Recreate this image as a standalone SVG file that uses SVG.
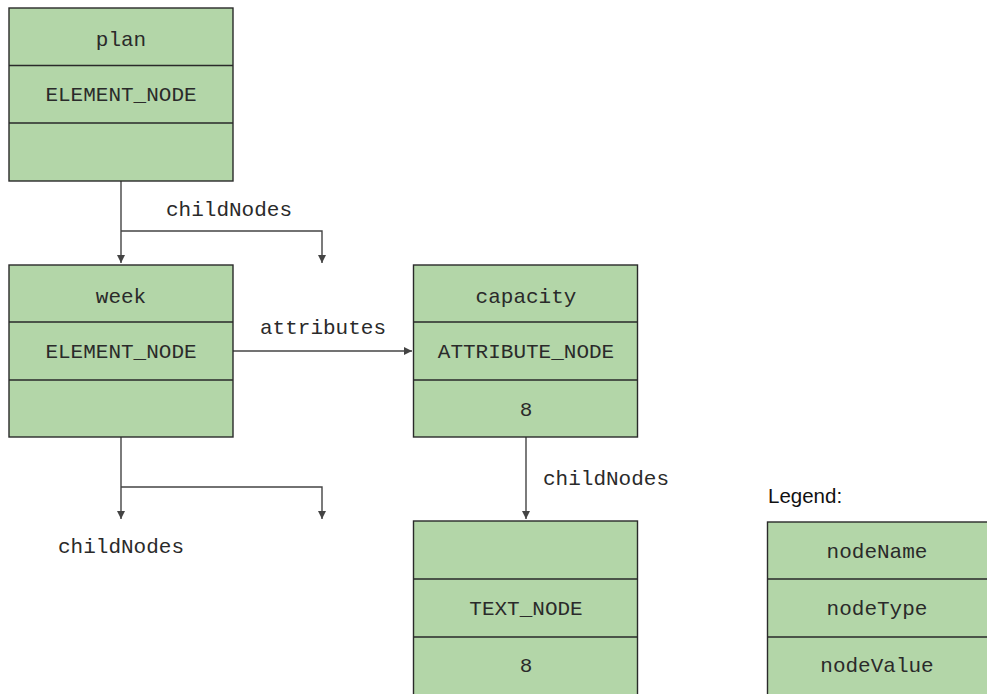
<svg xmlns="http://www.w3.org/2000/svg" width="987" height="694" viewBox="0 0 987 694">
<defs>
<style>
.box{fill:#b3d6a8;stroke:#2a2a2a;stroke-width:1.4}
.div{stroke:#2a2a2a;stroke-width:1.4;fill:none}
.t{font-family:"Liberation Mono","DejaVu Sans Mono",monospace;font-size:21px;fill:#2a2a2a;text-anchor:middle}
.lbl{font-family:"Liberation Mono","DejaVu Sans Mono",monospace;font-size:21px;fill:#2a2a2a}
.conn{stroke:#444;stroke-width:1.4;fill:none}
.leg{font-family:"Liberation Sans",Arial,sans-serif;font-size:20.5px;fill:#111}
</style>
<marker id="arr" viewBox="0 0 10 10" refX="10" refY="5" markerWidth="8" markerHeight="9" markerUnits="userSpaceOnUse" orient="auto">
<path d="M0,0 L10,5 L0,10 z" fill="#444"/>
</marker>
</defs>
<rect width="987" height="694" fill="#fff"/>

<g id="connectors">
<path class="conn" d="M121,181 V263" marker-end="url(#arr)"/>
<path class="conn" d="M121,231 H322 V263" marker-end="url(#arr)"/>
<text class="lbl" x="166" y="216">childNodes</text>
<path class="conn" d="M233,351 H412" marker-end="url(#arr)"/>
<text class="lbl" x="260" y="334">attributes</text>
<path class="conn" d="M121,437 V519" marker-end="url(#arr)"/>
<path class="conn" d="M121,487 H322 V519" marker-end="url(#arr)"/>
<text class="lbl" x="58" y="553">childNodes</text>
<path class="conn" d="M526,437 V519" marker-end="url(#arr)"/>
<text class="lbl" x="543" y="485">childNodes</text>
</g>

<g id="plan">
<rect class="box" x="9" y="8" width="224" height="173"/>
<path class="div" d="M9,65.5 H233 M9,123 H233"/>
<text class="t" x="121" y="46">plan</text>
<text class="t" x="121" y="101">ELEMENT_NODE</text>
</g>

<g id="week">
<rect class="box" x="9" y="265" width="224" height="172"/>
<path class="div" d="M9,322 H233 M9,380 H233"/>
<text class="t" x="121" y="303">week</text>
<text class="t" x="121" y="358">ELEMENT_NODE</text>
</g>

<g id="capacity">
<rect class="box" x="413.5" y="265" width="224" height="172"/>
<path class="div" d="M413.5,322 H637.5 M413.5,380 H637.5"/>
<text class="t" x="526" y="303">capacity</text>
<text class="t" x="526" y="358">ATTRIBUTE_NODE</text>
<text class="t" x="526" y="416">8</text>
</g>

<g id="text">
<rect class="box" x="413.5" y="521" width="224" height="180"/>
<path class="div" d="M413.5,579 H637.5 M413.5,637 H637.5"/>
<text class="t" x="526" y="615">TEXT_NODE</text>
<text class="t" x="526" y="672">8</text>
</g>

<g id="legend">
<text class="leg" x="768" y="503">Legend:</text>
<rect class="box" x="767.5" y="522" width="230" height="180"/>
<path class="div" d="M767.5,579 H990 M767.5,637 H990"/>
<text class="t" x="877" y="558">nodeName</text>
<text class="t" x="877" y="615">nodeType</text>
<text class="t" x="877" y="672">nodeValue</text>
</g>
</svg>
